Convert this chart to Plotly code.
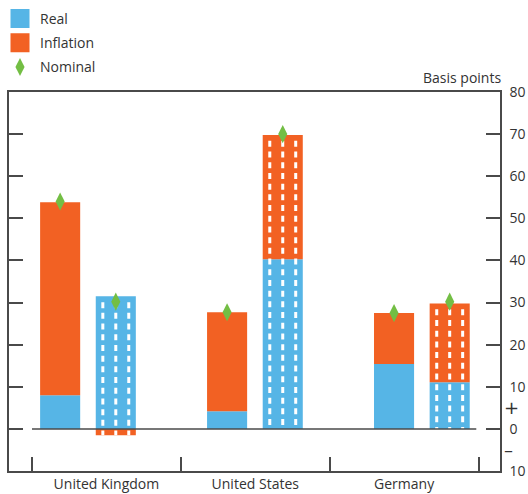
import plotly.graph_objects as go

# ---------------- data ----------------
categories = ["United Kingdom", "United States", "Germany"]
real_first = [8.0, 4.2, 15.4]
inflation_first = [45.8, 23.5, 12.1]
nominal_first = [54.0, 27.7, 27.5]
real_second = [31.5, 40.3, 11.1]
inflation_second = [-1.5, 29.5, 18.7]
nominal_second = [30.2, 70.0, 30.2]
y_tickvals = [80, 70, 60, 50, 40, 30, 20, 10, 0, -10]
y_ticktext = ["80", "70", "60", "50", "40", "30", "20", "10", "0", "10"]
sign_vals = [5, -5]
sign_text = ["+", "\u2013"]

# ---------------- style ----------------
BLUE = "#56B5E6"
ORANGE = "#F26123"
GREEN = "#73BE44"
AXIS = "#4A4A4A"
TEXT = "#333333"
FONT = "Open Sans"

n = len(categories)
pos_first = [3 * i for i in range(n)]
pos_second = [3 * i + 1 for i in range(n)]
x_bars = pos_first + pos_second
bar_w = 0.72

x_range = [-0.919, 7.904]
bounds = [-0.506, 2.169, 4.843, 7.518]
centers = [(bounds[i] + bounds[i + 1]) / 2 for i in range(n)]

fig = go.Figure()

fig.add_trace(go.Bar(x=x_bars, y=real_first + real_second, width=bar_w,
                     marker=dict(color=BLUE, line=dict(width=0)),
                     showlegend=False, hoverinfo="skip"))
fig.add_trace(go.Bar(x=x_bars, y=inflation_first + inflation_second, width=bar_w,
                     marker=dict(color=ORANGE, line=dict(width=0)),
                     showlegend=False, hoverinfo="skip"))

# white dashes on the second bar of each group
dx, dy = [], []
for i in range(n):
    r, inf = real_second[i], inflation_second[i]
    top = max(r, r + inf, 0)
    bot = min(0, inf if inf < 0 else 0)
    for off in (-0.233, 0.0, 0.233):
        dx += [pos_second[i] + off, pos_second[i] + off, None]
        dy += [top - 1.4, bot, None]
fig.add_trace(go.Scatter(x=dx, y=dy, mode="lines",
                         line=dict(color="white", width=3, dash="6px,4.7px"),
                         showlegend=False, hoverinfo="skip"))

fig.add_trace(go.Scatter(x=x_bars, y=nominal_first + nominal_second, mode="markers",
                         marker=dict(symbol="diamond-tall", size=13, color=GREEN),
                         showlegend=False, hoverinfo="skip"))

# invisible trace so the overlay axes (category names, +/- signs) are drawn
fig.add_trace(go.Scatter(x=[centers[0]], y=[0], xaxis="x2", yaxis="y2", mode="markers",
                         marker=dict(opacity=0, size=1), showlegend=False, hoverinfo="skip"))

# legend entries
fig.add_trace(go.Scatter(x=[None], y=[None], mode="markers", name="Real", legendgroup="a",
                         marker=dict(symbol="square", size=16, color=BLUE,
                                     line=dict(color=BLUE, width=3))))
fig.add_trace(go.Scatter(x=[None], y=[None], mode="markers", name="Inflation", legendgroup="b",
                         marker=dict(symbol="square", size=16, color=ORANGE,
                                     line=dict(color=ORANGE, width=3))))
fig.add_trace(go.Scatter(x=[None], y=[None], mode="markers", name="Nominal", legendgroup="c",
                         marker=dict(symbol="diamond-tall", size=13, color=GREEN)))

fig.update_layout(
    width=528, height=494,
    margin=dict(l=9, r=28, t=92, b=23, autoexpand=False),
    paper_bgcolor="white", plot_bgcolor="white",
    barmode="relative",
    font=dict(family=FONT, size=14, color=TEXT),
    showlegend=True,
    legend=dict(xref="container", yref="container", x=0.0, y=1 - 3 / 494,
                xanchor="left", yanchor="top", tracegroupgap=3,
                traceorder="grouped", font=dict(size=14, color=TEXT),
                bgcolor="rgba(0,0,0,0)"),
    xaxis=dict(range=x_range, tickvals=bounds, showticklabels=False,
               ticks="inside", ticklen=14, tickwidth=1.5, tickcolor=AXIS,
               showline=True, linecolor=AXIS, linewidth=1.5, mirror=True,
               showgrid=False, zeroline=False, fixedrange=True),
    xaxis2=dict(range=x_range, overlaying="x", side="bottom", anchor="y",
                tickvals=centers, ticktext=categories, ticks="",
                ticklabelstandoff=3,
                showline=False, showgrid=False, zeroline=False,
                tickfont=dict(size=14, color=TEXT)),
    yaxis=dict(range=[-10, 80], side="right", tickvals=y_tickvals, ticktext=y_ticktext,
               ticks="inside", ticklen=14, tickwidth=1.5, tickcolor=AXIS,
               showline=True, linecolor=AXIS, linewidth=1.5, mirror="ticks",
               ticklabelstandoff=5,
               showgrid=False, zeroline=False, tickfont=dict(size=14, color=TEXT)),
    yaxis2=dict(range=[-10, 80], overlaying="y", side="right", anchor="x",
                tickvals=sign_vals, ticktext=sign_text, ticks="",
                ticklabelstandoff=3,
                showline=False, showgrid=False, zeroline=False,
                tickfont=dict(family="DejaVu Sans", size=18, color=TEXT)),
    shapes=[dict(type="line", xref="x", yref="y", x0=bounds[0], x1=bounds[-1] - 0.04,
                 y0=0, y1=0, line=dict(color=AXIS, width=1.5), layer="above")],
    annotations=[dict(text="Basis points", xref="paper", yref="paper", x=1.0, y=1.0,
                      xanchor="right", yanchor="bottom", yshift=3, xshift=3, showarrow=False,
                      font=dict(size=14, color=TEXT))],
)

fig.write_html("out.html")
